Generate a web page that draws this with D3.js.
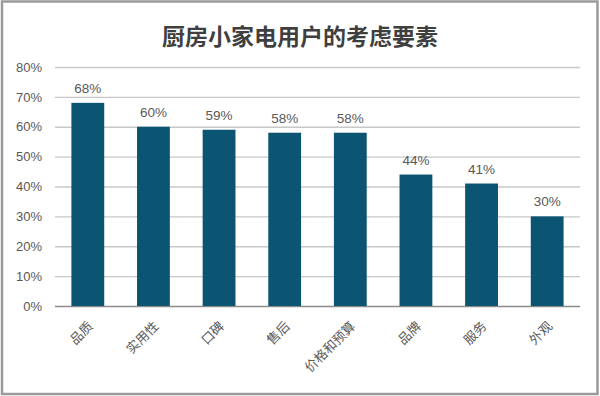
<!DOCTYPE html>
<html><head><meta charset="utf-8">
<script src="https://cdn.jsdelivr.net/npm/d3@7/dist/d3.min.js"></script>
<style>body{margin:0;background:#fff}svg{display:block}</style>
</head><body>
<script>
const categories = ["品质","实用性","口碑","售后","价格和预算","品牌","服务","外观"];
const values = [68,60,59,58,58,44,41,30];
const yTicks = [0,10,20,30,40,50,60,70,80];
const title = "厨房小家电用户的考虑要素";

const W = 600, H = 396;
const svg = d3.select("body").append("svg").attr("width", W).attr("height", H);
svg.append("rect").attr("x",2).attr("y",1.5).attr("width",595.5).attr("height",392.5)
  .attr("fill","#fff").attr("stroke","#9a9a9a").attr("stroke-width",2.5);

const m = {left:55, right:580, top:67, bottom:306};
const x = d3.scaleBand().domain(categories).range([m.left, m.right]).paddingInner(0.5).paddingOuter(0.25);
const y = d3.scaleLinear().domain([0,80]).range([m.bottom, m.top]);

svg.append("text").attr("x",300).attr("y",45).attr("text-anchor","middle")
  .attr("font-family","'Noto Sans CJK SC'").attr("font-weight","bold").attr("font-size",23)
  .attr("fill","#3f3f3f").text(title);

const ga = svg.append("g").attr("transform",`translate(${m.left},0)`)
  .call(d3.axisLeft(y).tickValues(yTicks).tickSize(-(m.right-m.left)).tickFormat(d=>d+"%").tickPadding(13));
ga.select(".domain").remove();
ga.selectAll(".tick line").attr("stroke", d=> d===0 ? "#8c8c8c" : "#c8c8c8").attr("stroke-width",1.3);
ga.selectAll(".tick text").attr("font-family","'Liberation Sans', Arial").attr("font-size",13).attr("fill","#595959");

svg.append("g").selectAll("rect").data(values).join("rect")
  .attr("x",(d,i)=>x(categories[i])).attr("width",x.bandwidth())
  .attr("y",d=>y(d)).attr("height",d=>y(0)-y(d)).attr("fill","#0b5472");

svg.append("g").selectAll("text").data(values).join("text")
  .attr("x",(d,i)=>x(categories[i])+x.bandwidth()/2).attr("y",d=>y(d)-10)
  .attr("text-anchor","middle").attr("font-family","'Liberation Sans', Arial").attr("font-size",13.5)
  .attr("fill","#595959").text(d=>d+"%");

const gx = svg.append("g").attr("transform",`translate(0,${m.bottom})`)
  .call(d3.axisBottom(x).tickSize(0).tickPadding(0));
gx.select(".domain").remove();
gx.selectAll(".tick text").attr("font-family","'Noto Sans CJK SC'").attr("font-size",13).attr("fill","#595959")
  .attr("text-anchor","end").attr("dy",0)
  .attr("transform","translate(6,21) rotate(-45)");
</script>
</body></html>
